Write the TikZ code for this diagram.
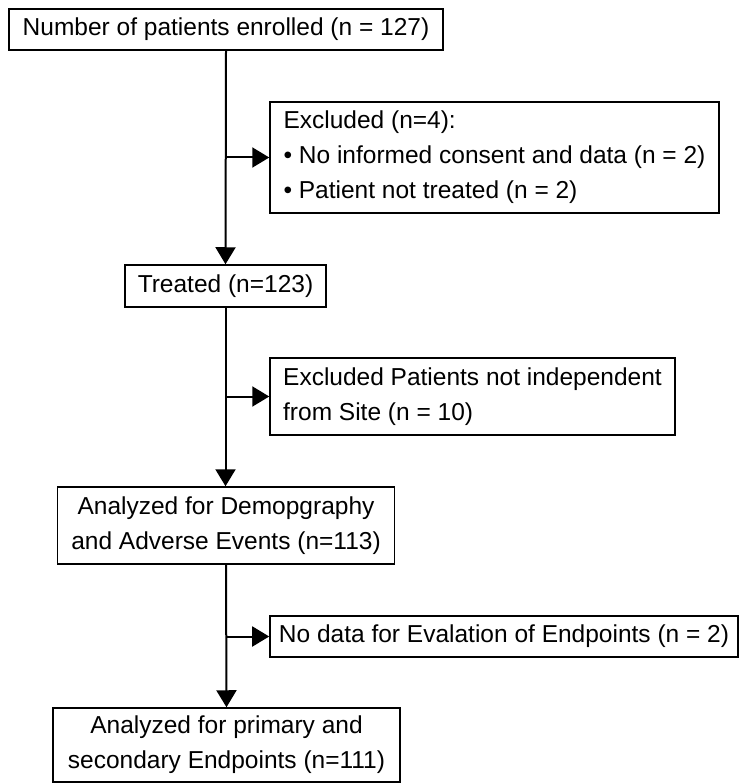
\documentclass[tikz,border=0pt]{standalone}
\usepackage{fontspec}
\setmainfont{Liberation Sans}
\usetikzlibrary{arrows.meta}

\begin{document}
\begin{tikzpicture}[x=1pt, y=1pt,
	box/.style={draw, line width=1.5pt, inner xsep=9pt, inner ysep=0pt, font=\fontsize{24.5}{35}\selectfont},
	link/.style={line width=2pt, -{Triangle[length=17pt, width=20pt]}}]
	\useasboundingbox (0, 0) rectangle (739, -783);
	
	\node[box, minimum width=434pt, minimum height=41pt] (enrolled) at (226, -29.5) {Number of patients enrolled (n = 127)};
	\node[box, minimum width=449pt, minimum height=111pt, align=left] (excl1) at (494.5, -157.5) {Excluded (n=4):\\\textbullet{} No informed consent and data (n = 2)\\\textbullet{} Patient not treated (n = 2)};
	
	\node[box, minimum width=201pt, minimum height=42pt] (treated) at (225.5, -286) {Treated (n=123)};
	\node[box, minimum width=405pt, minimum height=77pt, align=left] (excl2) at (472.5, -396.5) {Excluded Patients not independent\\from Site (n = 10)};
	
	\node[box, minimum width=337pt, minimum height=77pt, align=center] (analyzed) at (226, -525.5) {Analyzed for Demopgraphy\\and Adverse Events (n=113)};
	\node[box, minimum width=468pt, minimum height=41pt] (nodata) at (504, -636.5) {No data for Evalation of Endpoints (n = 2)};
	
	\node[box, minimum width=347pt, minimum height=74pt, align=center] (final) at (226.5, -745) {Analyzed for primary and\\secondary Endpoints (n=111)};
	
	\draw[link] (enrolled.south) -- (treated.north);
	\draw[link] (enrolled.south |- excl1.west) -- (excl1.west);
	\draw[link] (treated.south) -- (treated.south |- analyzed.north);
	\draw[link] (treated.south |- excl2.west) -- (excl2.west);
	\draw[link] (analyzed.south) -- (final.north);
	\draw[link] (analyzed.south |- nodata.west) -- (nodata.west);
\end{tikzpicture}
\end{document}
